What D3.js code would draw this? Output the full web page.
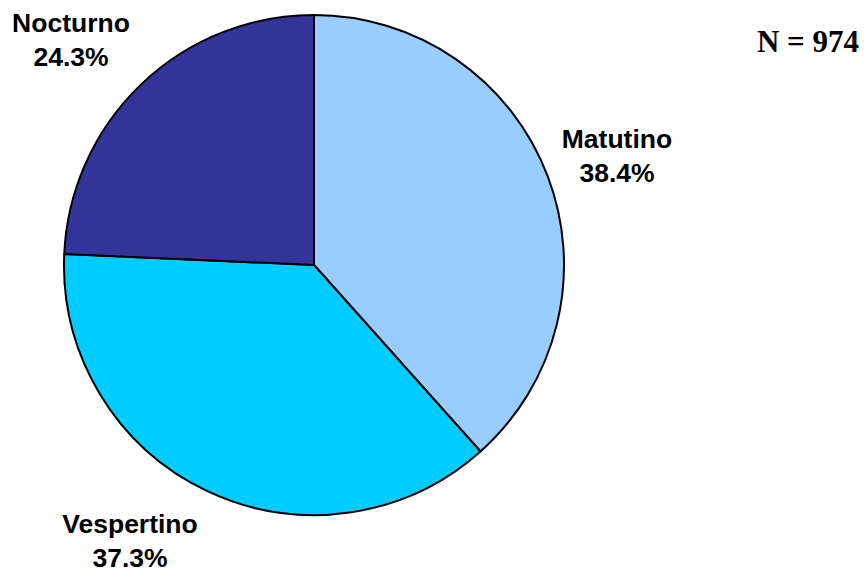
<!DOCTYPE html>
<html>
<head>
<meta charset="utf-8">
<script src="https://cdn.jsdelivr.net/npm/d3@7"></script>
<style>
  html, body { margin: 0; padding: 0; background: #ffffff; }
  svg { display: block; }
</style>
</head>
<body>
<svg id="chart" width="864" height="572"></svg>
<script>
// Shifts and their share of the total
const categories = ["Matutino", "Vespertino", "Nocturno"];
const values = [38.4, 37.3, 24.3];
const colors = ["#99CCFF", "#00CCFF", "#333399"];
const totalLabel = "N = 974";

// Label anchor points (first line baseline of the two-line label)
const labelPos = {
  "Matutino":   [617, 148],
  "Vespertino": [130, 533],
  "Nocturno":   [71, 32]
};

const svg = d3.select("#chart");
const cx = 314, cy = 265, r = 250;

const data = categories.map((c, i) => ({ name: c, value: values[i], color: colors[i] }));

const pie = d3.pie().value(d => d.value).sort(null);
const arc = d3.arc().innerRadius(0).outerRadius(r);

const g = svg.append("g").attr("transform", `translate(${cx},${cy})`);

g.selectAll("path")
  .data(pie(data))
  .join("path")
  .attr("d", arc)
  .attr("fill", d => d.data.color)
  .attr("stroke", "#000")
  .attr("stroke-width", 2)
  .attr("stroke-linejoin", "round");

// Category labels with percentages
const labels = svg.selectAll("text.lbl")
  .data(data)
  .join("text")
  .attr("class", "lbl")
  .attr("text-anchor", "middle")
  .attr("font-family", "'Liberation Sans', Arial, sans-serif")
  .attr("font-weight", "bold")
  .attr("font-size", 26.5)
  .attr("fill", "#000");

labels.append("tspan")
  .attr("x", d => labelPos[d.name][0])
  .attr("y", d => labelPos[d.name][1])
  .text(d => d.name);

labels.append("tspan")
  .attr("x", d => labelPos[d.name][0])
  .attr("dy", 34)
  .text(d => d.value.toFixed(1) + "%");

// Sample size
svg.append("text")
  .attr("x", 808)
  .attr("y", 52)
  .attr("text-anchor", "middle")
  .attr("font-family", "'Liberation Serif', 'Times New Roman', serif")
  .attr("font-weight", "bold")
  .attr("font-size", 31)
  .attr("fill", "#000")
  .text(totalLabel);
</script>
</body>
</html>
